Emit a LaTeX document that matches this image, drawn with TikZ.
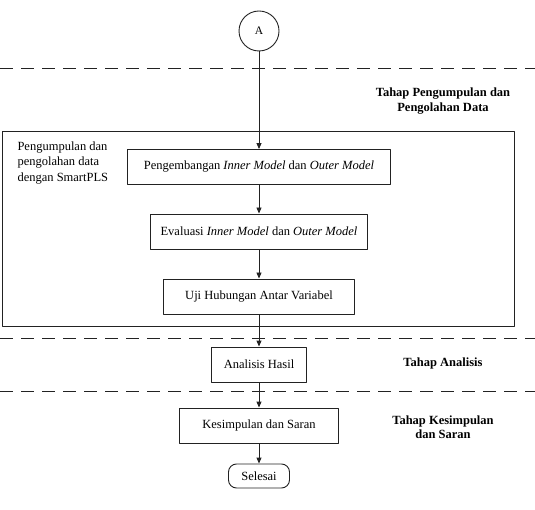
\documentclass[tikz,border=0pt]{standalone}
\usepackage{fontspec}
\setmainfont{Liberation Serif}
\usetikzlibrary{arrows.meta}
\definecolor{ink}{HTML}{222222}
\newcommand{\Mid}{259}
\newcommand{\Stage}{443}

\begin{document}
\begin{tikzpicture}[x=1pt,y=-1pt, line join=round,
    box/.style={draw=ink,line width=0.9pt,minimum height=35pt,inner sep=0pt,
      font=\fontsize{12.5}{14}\selectfont},
    stagelabel/.style={align=center,font=\fontsize{12.5}{14.5}\selectfont\bfseries},
    phase/.style={ink,line width=0.9pt,dash pattern=on 13pt off 8pt},
    flow/.style={-{Triangle[length=6pt,width=5pt]},ink,line width=0.9pt}]

  \useasboundingbox (0,0) rectangle (535,510);

  % ---- the phase dividers --------------------------------------------------
  \foreach \y in {68,338,391} {
    \draw[phase] (0,\y) -- (535,\y);
  }

  % ---- data collection frame ----------------------------------------------
  \draw[ink,line width=0.9pt] (2,131) rectangle (514,326);
  \node[align=left,anchor=north west,font=\fontsize{12.5}{15.5}\selectfont] (frame)
    at (14,138) {Pengumpulan dan\\pengolahan data\\dengan SmartPLS};

  % ---- flow ---------------------------------------------------------------
  \node[draw=ink,circle,line width=0.9pt,minimum size=40pt,inner sep=0pt,
    font=\fontsize{11.5}{13}\selectfont] (start) at (\Mid,31) {A};
  \node[box,minimum width=263pt] (develop) at (\Mid,167)
    {Pengembangan \textit{Inner Model} dan \textit{Outer Model}};
  \node[box,minimum width=217pt] (evaluate) at (\Mid,231.5)
    {Evaluasi \textit{Inner Model} dan \textit{Outer Model}};
  \node[box,minimum width=191pt] (test) at (\Mid,296.5)
    {Uji Hubungan Antar Variabel};
  \node[box,minimum width=95pt] (analysis) at (\Mid,364.5) {Analisis Hasil};
  \node[box,minimum width=159pt] (conclude) at (\Mid,425.5)
    {Kesimpulan dan Saran};
  \node[box,minimum width=61pt,minimum height=24pt,rounded corners=8pt]
    (finish) at (\Mid,476) {Selesai};

  \draw[flow] (start) -- (develop);
  \draw[flow] (develop) -- (evaluate);
  \draw[flow] (evaluate) -- (test);
  \draw[flow] (test) -- (analysis);
  \draw[flow] (analysis) -- (conclude);
  \draw[flow] (conclude) -- (finish);

  % ---- stage names --------------------------------------------------------
  \node[stagelabel] (stageone) at (\Stage,101) {Tahap Pengumpulan dan\\Pengolahan Data};
  \node[stagelabel] (stagetwo) at (\Stage,363) {Tahap Analisis};
  \node[stagelabel] (stagethree) at (\Stage,427) {Tahap Kesimpulan\\dan Saran};

\end{tikzpicture}
\end{document}
